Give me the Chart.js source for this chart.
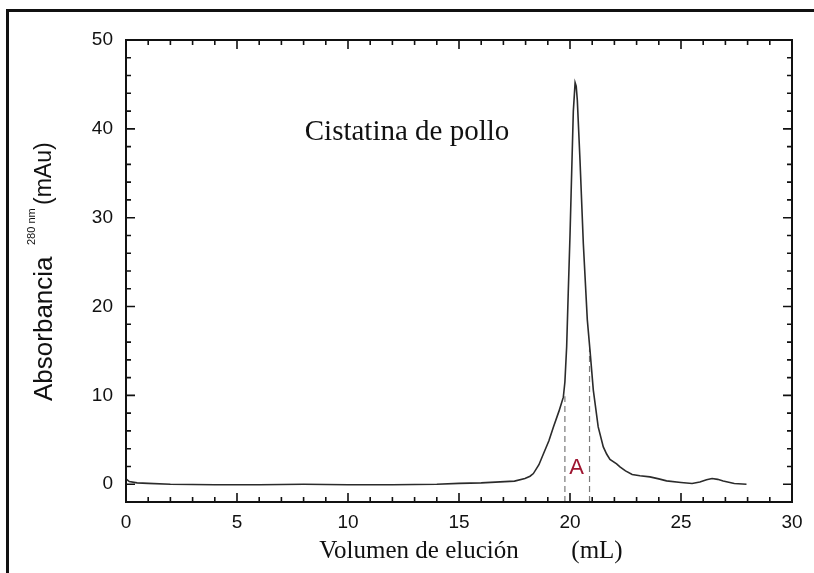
<!DOCTYPE html>
<html lang="es">

<head>
    <meta charset="UTF-8">
    <title>Cistatina de pollo</title>
    <script src="https://cdn.jsdelivr.net/npm/chart.js"></script>
    <style>
        body {
            margin: 0;
            background: #fff;
        }

        #frame {
            position: absolute;
            left: 6px;
            top: 9px;
            width: 820px;
            height: 580px;
            border-left: 3px solid #111;
            border-top: 3px solid #111;
        }

        #myChart {
            position: absolute;
            left: 0;
            top: 0;
        }
    </style>
</head>

<body>
    <div id="frame"></div>
    <canvas id="myChart" width="814" height="573"></canvas>

    <script>
// elution volume (mL) and absorbance at 280 nm (mAu)
const elutionVolume = [0, 0.15, 0.5, 1, 2, 4, 6, 8, 10, 12, 14, 15, 16, 16.85, 17.5, 17.97, 18.2, 18.35, 18.6, 18.8,
    19.05, 19.25, 19.5, 19.7, 19.77, 19.85, 19.92, 20.0, 20.05, 20.15, 20.23, 20.28, 20.33, 20.45, 20.6, 20.78, 20.9,
    21.05, 21.27, 21.5, 21.65, 21.8, 22.1, 22.25, 22.5, 22.8, 23.15, 23.6, 24.0, 24.35, 25.0, 25.5, 25.85, 26.15,
    26.4, 26.65, 26.9, 27.4, 27.95];
const absorbance = [0.6, 0.3, 0.15, 0.1, 0, -0.05, -0.05, 0, -0.05, -0.05, 0, 0.1, 0.15, 0.26, 0.35, 0.64, 0.9, 1.2, 2.2, 3.4,
    4.9, 6.4, 8.2, 9.8, 11.5, 15.5, 21.5, 28, 32.7, 42, 45.2, 44.8, 43.2, 36.5, 27.1, 18.5, 15.1,
    10.6, 6.45, 4.2, 3.4, 2.8, 2.3, 1.95, 1.5, 1.1, 0.95, 0.83, 0.6, 0.38, 0.2, 0.08, 0.26, 0.5,
    0.64, 0.55, 0.37, 0.08, 0];

// fraction A collected between the two dashed lines
const fractionBounds = [19.77, 20.88];
const fractionTops = [9.9, 15.2];

const xTickValues = [0, 5, 10, 15, 20, 25, 30];
const yTickValues = [0, 10, 20, 30, 40, 50];

const curve = elutionVolume.map((v, i) => ({ x: v, y: absorbance[i] }));

function dashLine(i) {
    return {
        data: [{ x: fractionBounds[i], y: -2 }, { x: fractionBounds[i], y: fractionTops[i] }],
        showLine: true,
        borderColor: '#7a7a7a',
        borderWidth: 1.2,
        borderDash: [6, 4],
        pointRadius: 0
    };
}

// inward ticks on all four sides, frame, and the texts
const decorPlugin = {
    id: 'decor',
    afterDraw(chart) {
        const ctx = chart.ctx;
        const xs = chart.scales.x;
        const ys = chart.scales.y;
        const a = chart.chartArea;

        ctx.save();
        ctx.strokeStyle = '#111';
        ctx.lineWidth = 1.6;
        for (let v = 0; v <= 30; v++) {
            const px = xs.getPixelForValue(v);
            const len = v % 5 === 0 ? 9 : 5;
            ctx.beginPath();
            ctx.moveTo(px, a.bottom);
            ctx.lineTo(px, a.bottom - len);
            ctx.moveTo(px, a.top);
            ctx.lineTo(px, a.top + len);
            ctx.stroke();
        }
        for (let v = 0; v <= 50; v += 2) {
            const py = ys.getPixelForValue(v);
            const len = v % 10 === 0 ? 9 : 5;
            ctx.beginPath();
            ctx.moveTo(a.left, py);
            ctx.lineTo(a.left + len, py);
            ctx.moveTo(a.right, py);
            ctx.lineTo(a.right - len, py);
            ctx.stroke();
        }
        ctx.lineWidth = 2;
        ctx.strokeRect(a.left, a.top, a.right - a.left, a.bottom - a.top);

        // sample name
        ctx.fillStyle = '#111';
        ctx.font = '29px "Liberation Serif", "Times New Roman", serif';
        ctx.textAlign = 'center';
        ctx.textBaseline = 'middle';
        ctx.fillText('Cistatina de pollo', xs.getPixelForValue(12.66), ys.getPixelForValue(39.6));

        // fraction label
        ctx.fillStyle = '#9e1530';
        ctx.font = '22px "Liberation Sans", Arial, sans-serif';
        ctx.fillText('A', xs.getPixelForValue(20.3), ys.getPixelForValue(1.8));

        // x axis title
        ctx.fillStyle = '#111';
        ctx.font = '25px "Liberation Serif", "Times New Roman", serif';
        ctx.fillText('Volumen de elución', 419, 551);
        ctx.fillText('(mL)', 597, 551);

        // y axis title with subscript wavelength
        ctx.translate(45, 401);
        ctx.rotate(-Math.PI / 2);
        ctx.textAlign = 'left';
        ctx.font = '26px "Liberation Sans", Arial, sans-serif';
        ctx.fillText('Absorbancia', 0, 0);
        ctx.font = '11px "Liberation Sans", Arial, sans-serif';
        ctx.fillText('280 nm', 156, -13);
        ctx.font = '23px "Liberation Sans", Arial, sans-serif';
        ctx.fillText('(mAu)', 196, 0);
        ctx.restore();
    }
};

const ctx = document.getElementById('myChart').getContext('2d');
const chart = new Chart(ctx, {
    type: 'scatter',
    data: {
        datasets: [{
            data: curve,
            showLine: true,
            borderColor: '#2b2b2b',
            borderWidth: 1.6,
            pointRadius: 0,
            tension: 0
        }, dashLine(0), dashLine(1)]
    },
    options: {
        responsive: false,
        animation: false,
        layout: { padding: { top: 40, right: 22, left: 0, bottom: 0 } },
        plugins: {
            legend: { display: false },
            tooltip: { enabled: false }
        },
        scales: {
            x: {
                type: 'linear',
                min: 0,
                max: 30,
                grid: { display: false, drawTicks: false },
                border: { display: false },
                afterBuildTicks: s => { s.ticks = xTickValues.map(v => ({ value: v })); },
                afterFit: s => { s.height = 71; },
                ticks: {
                    padding: 9,
                    color: '#111',
                    font: { family: '"Liberation Sans", Arial, sans-serif', size: 19 },
                    maxRotation: 0
                }
            },
            y: {
                type: 'linear',
                min: -2,
                max: 50,
                grid: { display: false, drawTicks: false },
                border: { display: false },
                afterBuildTicks: s => { s.ticks = yTickValues.map(v => ({ value: v })); },
                afterFit: s => { s.width = 126; },
                ticks: {
                    padding: 13,
                    color: '#111',
                    font: { family: '"Liberation Sans", Arial, sans-serif', size: 19 }
                }
            }
        }
    },
    plugins: [decorPlugin]
});
    </script>
</body>

</html>
